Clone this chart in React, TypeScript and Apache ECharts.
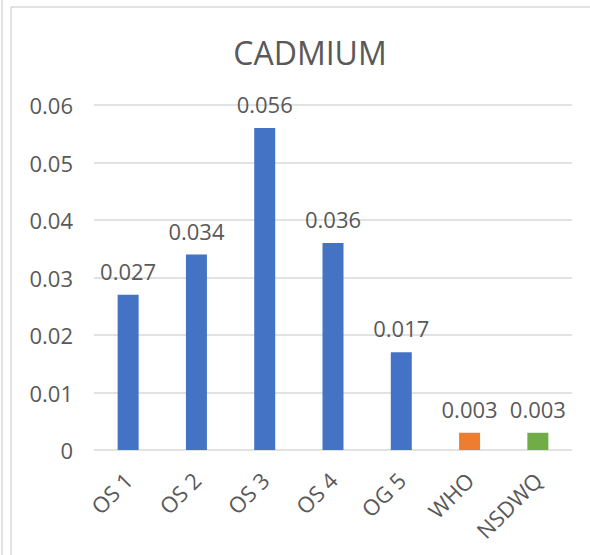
import React, { useEffect, useRef } from "react";
import * as echarts from "echarts";

const categories = ["OS 1", "OS 2", "OS 3", "OS 4", "OG 5", "WHO", "NSDWQ"];
const values = [0.027, 0.034, 0.056, 0.036, 0.017, 0.003, 0.003];
const barColors = ["#4472C4", "#4472C4", "#4472C4", "#4472C4", "#4472C4", "#ED7D31", "#70AD47"];
const yTicks = { min: 0, max: 0.06, interval: 0.01 };

const FONT = "'Open Sans', Lato, sans-serif";
const TEXT = "#595959";

export default function App() {
  const ref = useRef<HTMLDivElement>(null);

  useEffect(() => {
    if (!ref.current) return;
    const chart = echarts.init(ref.current, undefined, { renderer: "svg" });
    chart.setOption({
      animation: false,
      backgroundColor: "#ffffff",
      title: {
        text: "CADMIUM",
        left: 305,
        top: 31,
        textAlign: "center",
        textStyle: { fontFamily: FONT, fontSize: 32, fontWeight: "normal", color: TEXT },
      },
      graphic: [
        { type: "line", shape: { x1: 2, y1: 0, x2: 2, y2: 555 }, style: { stroke: "#d9d9d9", lineWidth: 1.5 } },
        { type: "line", shape: { x1: 11, y1: 7, x2: 11, y2: 555 }, style: { stroke: "#d9d9d9", lineWidth: 1.5 } },
        { type: "line", shape: { x1: 11, y1: 7, x2: 590, y2: 7 }, style: { stroke: "#d9d9d9", lineWidth: 1.5 } },
      ],
      grid: { left: 94, right: 18, top: 105, bottom: 105, containLabel: false },
      xAxis: {
        type: "category",
        data: categories,
        axisLine: { show: false },
        axisTick: { show: false },
        axisLabel: { rotate: 45, margin: 26, fontFamily: FONT, fontSize: 22, color: TEXT },
      },
      yAxis: {
        type: "value",
        min: yTicks.min,
        max: yTicks.max,
        interval: yTicks.interval,
        axisLine: { show: false },
        axisTick: { show: false },
        splitLine: { lineStyle: { color: "#d9d9d9", width: 1.5 } },
        axisLabel: {
          margin: 21,
          fontFamily: FONT,
          fontSize: 22,
          color: TEXT,
          formatter: (v: number) => (v === 0 ? "0" : String(Number(v.toFixed(3)))),
        },
      },
      series: [
        {
          type: "bar",
          barWidth: 21,
          data: values.map((v, i) => ({ value: v, itemStyle: { color: barColors[i] } })),
          label: {
            show: true,
            position: "top",
            distance: 13,
            fontFamily: FONT,
            fontSize: 22,
            color: TEXT,
            formatter: (p: any) => p.value.toFixed(3),
          },
        },
      ],
    });
    return () => chart.dispose();
  }, []);

  return <div ref={ref} style={{ position: "fixed", left: 0, top: 0, width: 590, height: 555 }} />;
}
